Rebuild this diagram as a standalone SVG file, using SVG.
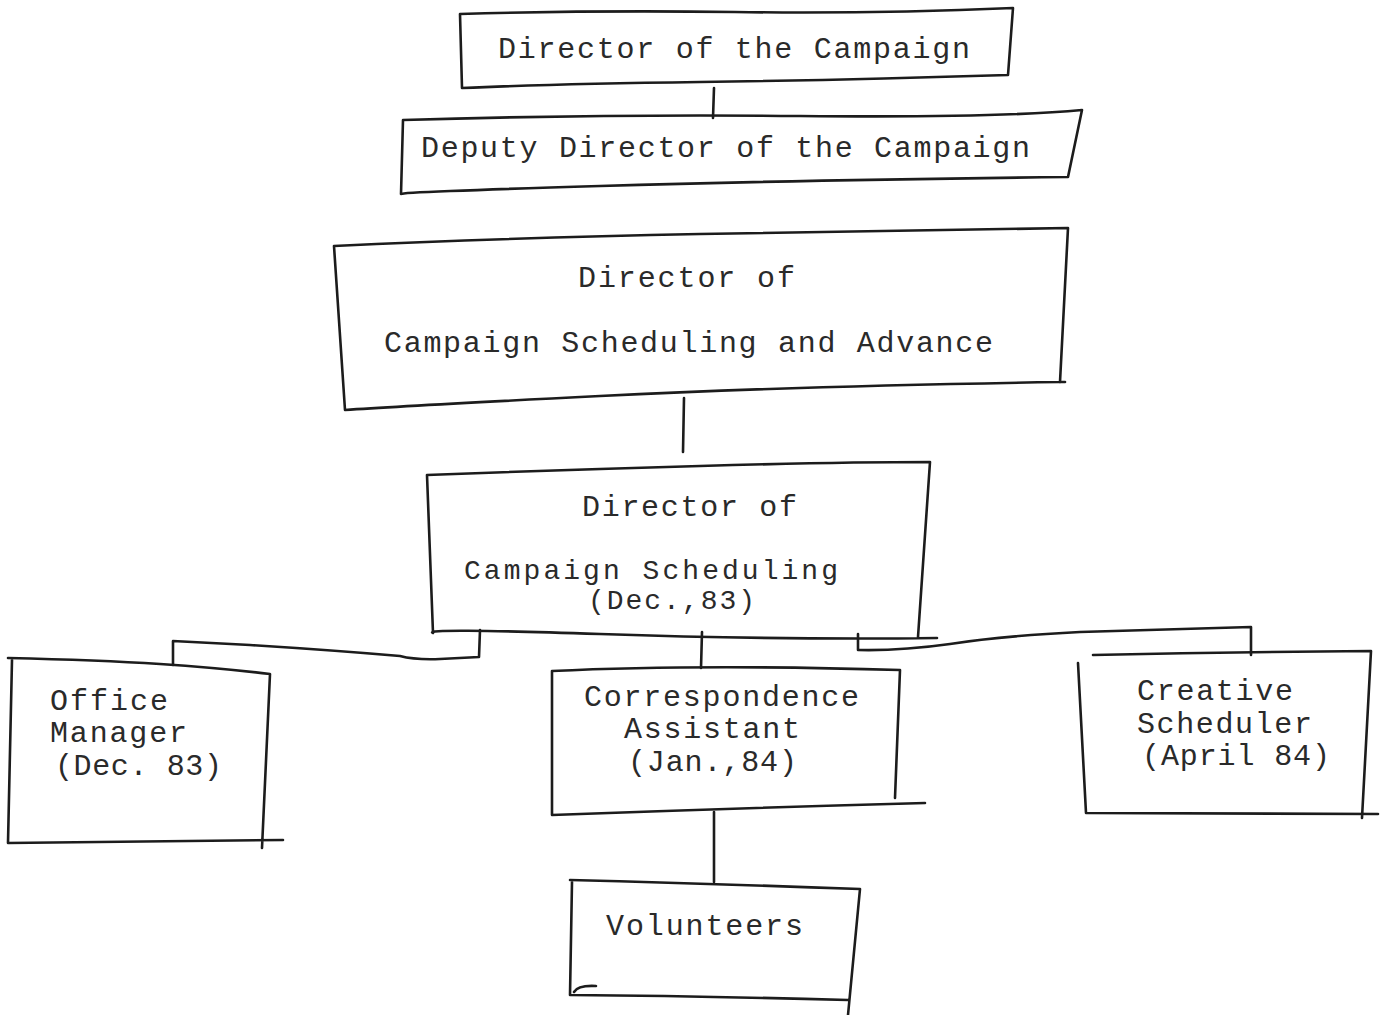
<svg xmlns="http://www.w3.org/2000/svg" width="1384" height="1015" viewBox="0 0 1384 1015">
<style>
.b{fill:none;stroke:#1c1c1c;stroke-width:2.6;stroke-linecap:round;stroke-linejoin:round}
.c{fill:none;stroke:#1c1c1c;stroke-width:2.6;stroke-linecap:round;stroke-linejoin:round}
.t{font-family:"Liberation Mono","DejaVu Sans Mono",monospace;font-size:30px;fill:#2a2a2a}
.s{font-size:28px}
</style>
<rect width="1384" height="1015" fill="#ffffff"/>
<g id="connectors">
<path class="c" d="M714 88 L713 118"/>
<path class="c" d="M684 398 L683 452"/>
<path class="c" d="M480 630 L479 657 L440 659 Q415 660 400 656 Q330 650 250 645 L173 641 L173 665"/>
<path class="c" d="M702 632 L701 668"/>
<path class="c" d="M858 634 L858 650 Q900 651 950 644 Q1000 636 1080 632 L1251 627 L1251 655"/>
<path class="c" d="M714 812 L714 882"/>
</g>
<g id="n1">
<path class="b" d="M460 14 Q600 10 735 12 T1013 8 L1008 75 Q850 80 700 82 T462 88 Z"/>
<text class="t" x="498" y="58" textLength="472" lengthAdjust="spacing">Director of the Campaign</text>
</g>
<g id="n2">
<path class="b" d="M403 120 Q600 114 800 116 T1082 110 L1068 177 Q800 180 600 186 T401 194 Z"/>
<text class="t" x="421" y="157" textLength="609" lengthAdjust="spacing">Deputy Director of the Campaign</text>
</g>
<g id="n3">
<path class="b" d="M334 246 Q500 238 700 234 T1068 228 L1060 382 Q800 386 600 396 T345 410 Z"/>
<path class="b" d="M1060 382 L1065 382"/>
<text class="t" x="578" y="287" textLength="217" lengthAdjust="spacing">Director of</text>
<text class="t" x="384" y="352" textLength="609" lengthAdjust="spacing">Campaign Scheduling and Advance</text>
</g>
<g id="n4">
<path class="b" d="M427 475 Q560 470 700 466 T930 462 L918 637 M937 638 Q780 640 600 634 T433 633 L427 475"/>
<text class="t" x="582" y="516" textLength="215" lengthAdjust="spacing">Director of</text>
<text class="t s" x="464" y="579" textLength="374" lengthAdjust="spacing">Campaign Scheduling</text>
<text class="t s" x="588" y="609" textLength="167" lengthAdjust="spacing">(Dec.,83)</text>
</g>
<g id="n5">
<path class="b" d="M8 658 Q100 660 160 664 T270 674 L262 848 M283 840 L8 843 L12 660"/>
<text class="t" x="50" y="710" textLength="118" lengthAdjust="spacing">Office</text>
<text class="t" x="50" y="742" textLength="137" lengthAdjust="spacing">Manager</text>
<text class="t" x="55" y="775" textLength="167" lengthAdjust="spacing">(Dec. 83)</text>
</g>
<g id="n6">
<path class="b" d="M552 671 Q700 664 900 670 L895 798 M925 803 Q740 808 552 815 L552 671"/>
<text class="t" x="584" y="706" textLength="275" lengthAdjust="spacing">Correspondence</text>
<text class="t" x="624" y="738" textLength="176" lengthAdjust="spacing">Assistant</text>
<text class="t" x="628" y="771" textLength="169" lengthAdjust="spacing">(Jan.,84)</text>
</g>
<g id="n7">
<path class="b" d="M1093 655 Q1230 652 1371 651 L1362 818 M1378 814 L1086 813 L1078 663"/>
<text class="t" x="1137" y="700" textLength="156" lengthAdjust="spacing">Creative</text>
<text class="t" x="1137" y="733" textLength="175" lengthAdjust="spacing">Scheduler</text>
<text class="t" x="1142" y="765" textLength="188" lengthAdjust="spacing">(April 84)</text>
</g>
<g id="n8">
<path class="b" d="M570 880 Q720 884 860 889 L848 1015 M848 1000 Q700 996 570 995 L572 882"/>
<path class="b" d="M574 992 Q578 985 596 986"/>
<text class="t" x="606" y="935" textLength="197" lengthAdjust="spacing">Volunteers</text>
</g>
</svg>
